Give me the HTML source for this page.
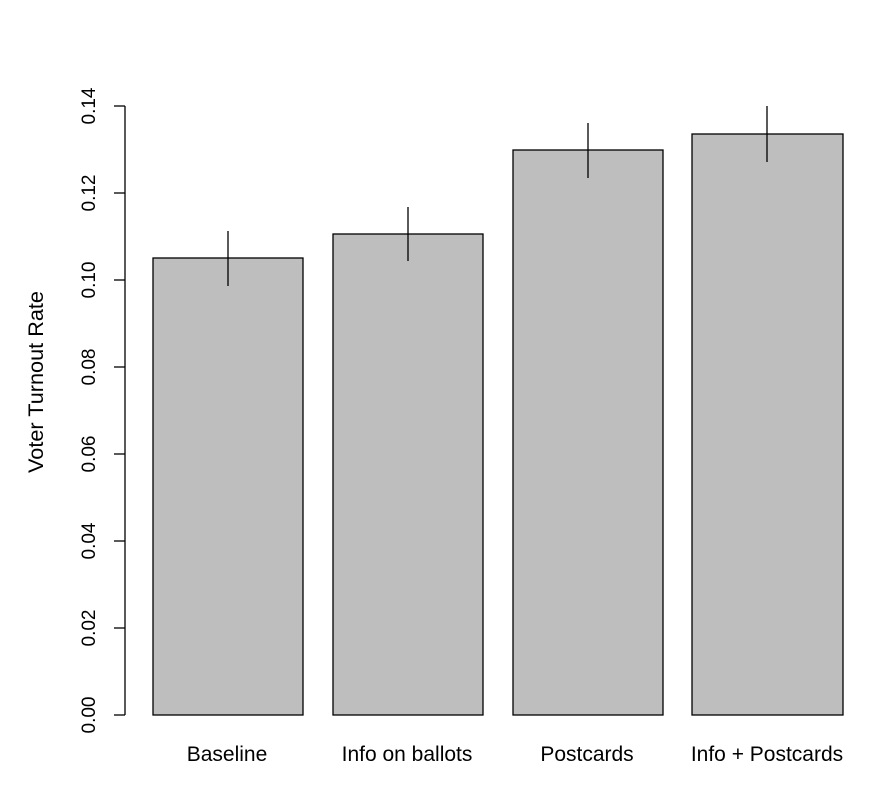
<!DOCTYPE html>
<html><head><style>body{margin:0;background:#fff}</style></head><body>
<svg width="880" height="784" xmlns="http://www.w3.org/2000/svg" font-family="Liberation Sans, Arial, sans-serif">
<rect width="880" height="784" fill="#fff"/>
<g stroke="#000" stroke-width="1.3" fill="none">
<line x1="125" y1="106" x2="125" y2="715"/>
<line x1="114" y1="106" x2="125" y2="106"/>
<line x1="114" y1="193" x2="125" y2="193"/>
<line x1="114" y1="280" x2="125" y2="280"/>
<line x1="114" y1="367" x2="125" y2="367"/>
<line x1="114" y1="454" x2="125" y2="454"/>
<line x1="114" y1="541" x2="125" y2="541"/>
<line x1="114" y1="628" x2="125" y2="628"/>
<line x1="114" y1="715" x2="125" y2="715"/>
</g>
<g fill="#bebebe" stroke="#000" stroke-width="1.3">
<rect x="153" y="258" width="150" height="457"/>
<rect x="333" y="234" width="150" height="481"/>
<rect x="513" y="150" width="150" height="565"/>
<rect x="692" y="134" width="151" height="581"/>
</g>
<g stroke="#000" stroke-width="1.3">
<line x1="228" y1="231" x2="228" y2="286"/>
<line x1="408" y1="207" x2="408" y2="261"/>
<line x1="588" y1="123" x2="588" y2="178"/>
<line x1="767" y1="106" x2="767" y2="162"/>
</g>
<g font-size="19" fill="#000" text-anchor="middle">
<text transform="translate(95,106) rotate(-90)">0.14</text>
<text transform="translate(95,193) rotate(-90)">0.12</text>
<text transform="translate(95,280) rotate(-90)">0.10</text>
<text transform="translate(95,367) rotate(-90)">0.08</text>
<text transform="translate(95,454) rotate(-90)">0.06</text>
<text transform="translate(95,541) rotate(-90)">0.04</text>
<text transform="translate(95,628) rotate(-90)">0.02</text>
<text transform="translate(95,715) rotate(-90)">0.00</text>
</g>
<g font-size="21" fill="#000" text-anchor="middle">
<text transform="translate(43,382) rotate(-90)" textLength="182" lengthAdjust="spacingAndGlyphs">Voter Turnout Rate</text>
<text x="227" y="761">Baseline</text>
<text x="407" y="761">Info on ballots</text>
<text x="587" y="761">Postcards</text>
<text x="767" y="761">Info + Postcards</text>
</g>
</svg>
</body></html>
